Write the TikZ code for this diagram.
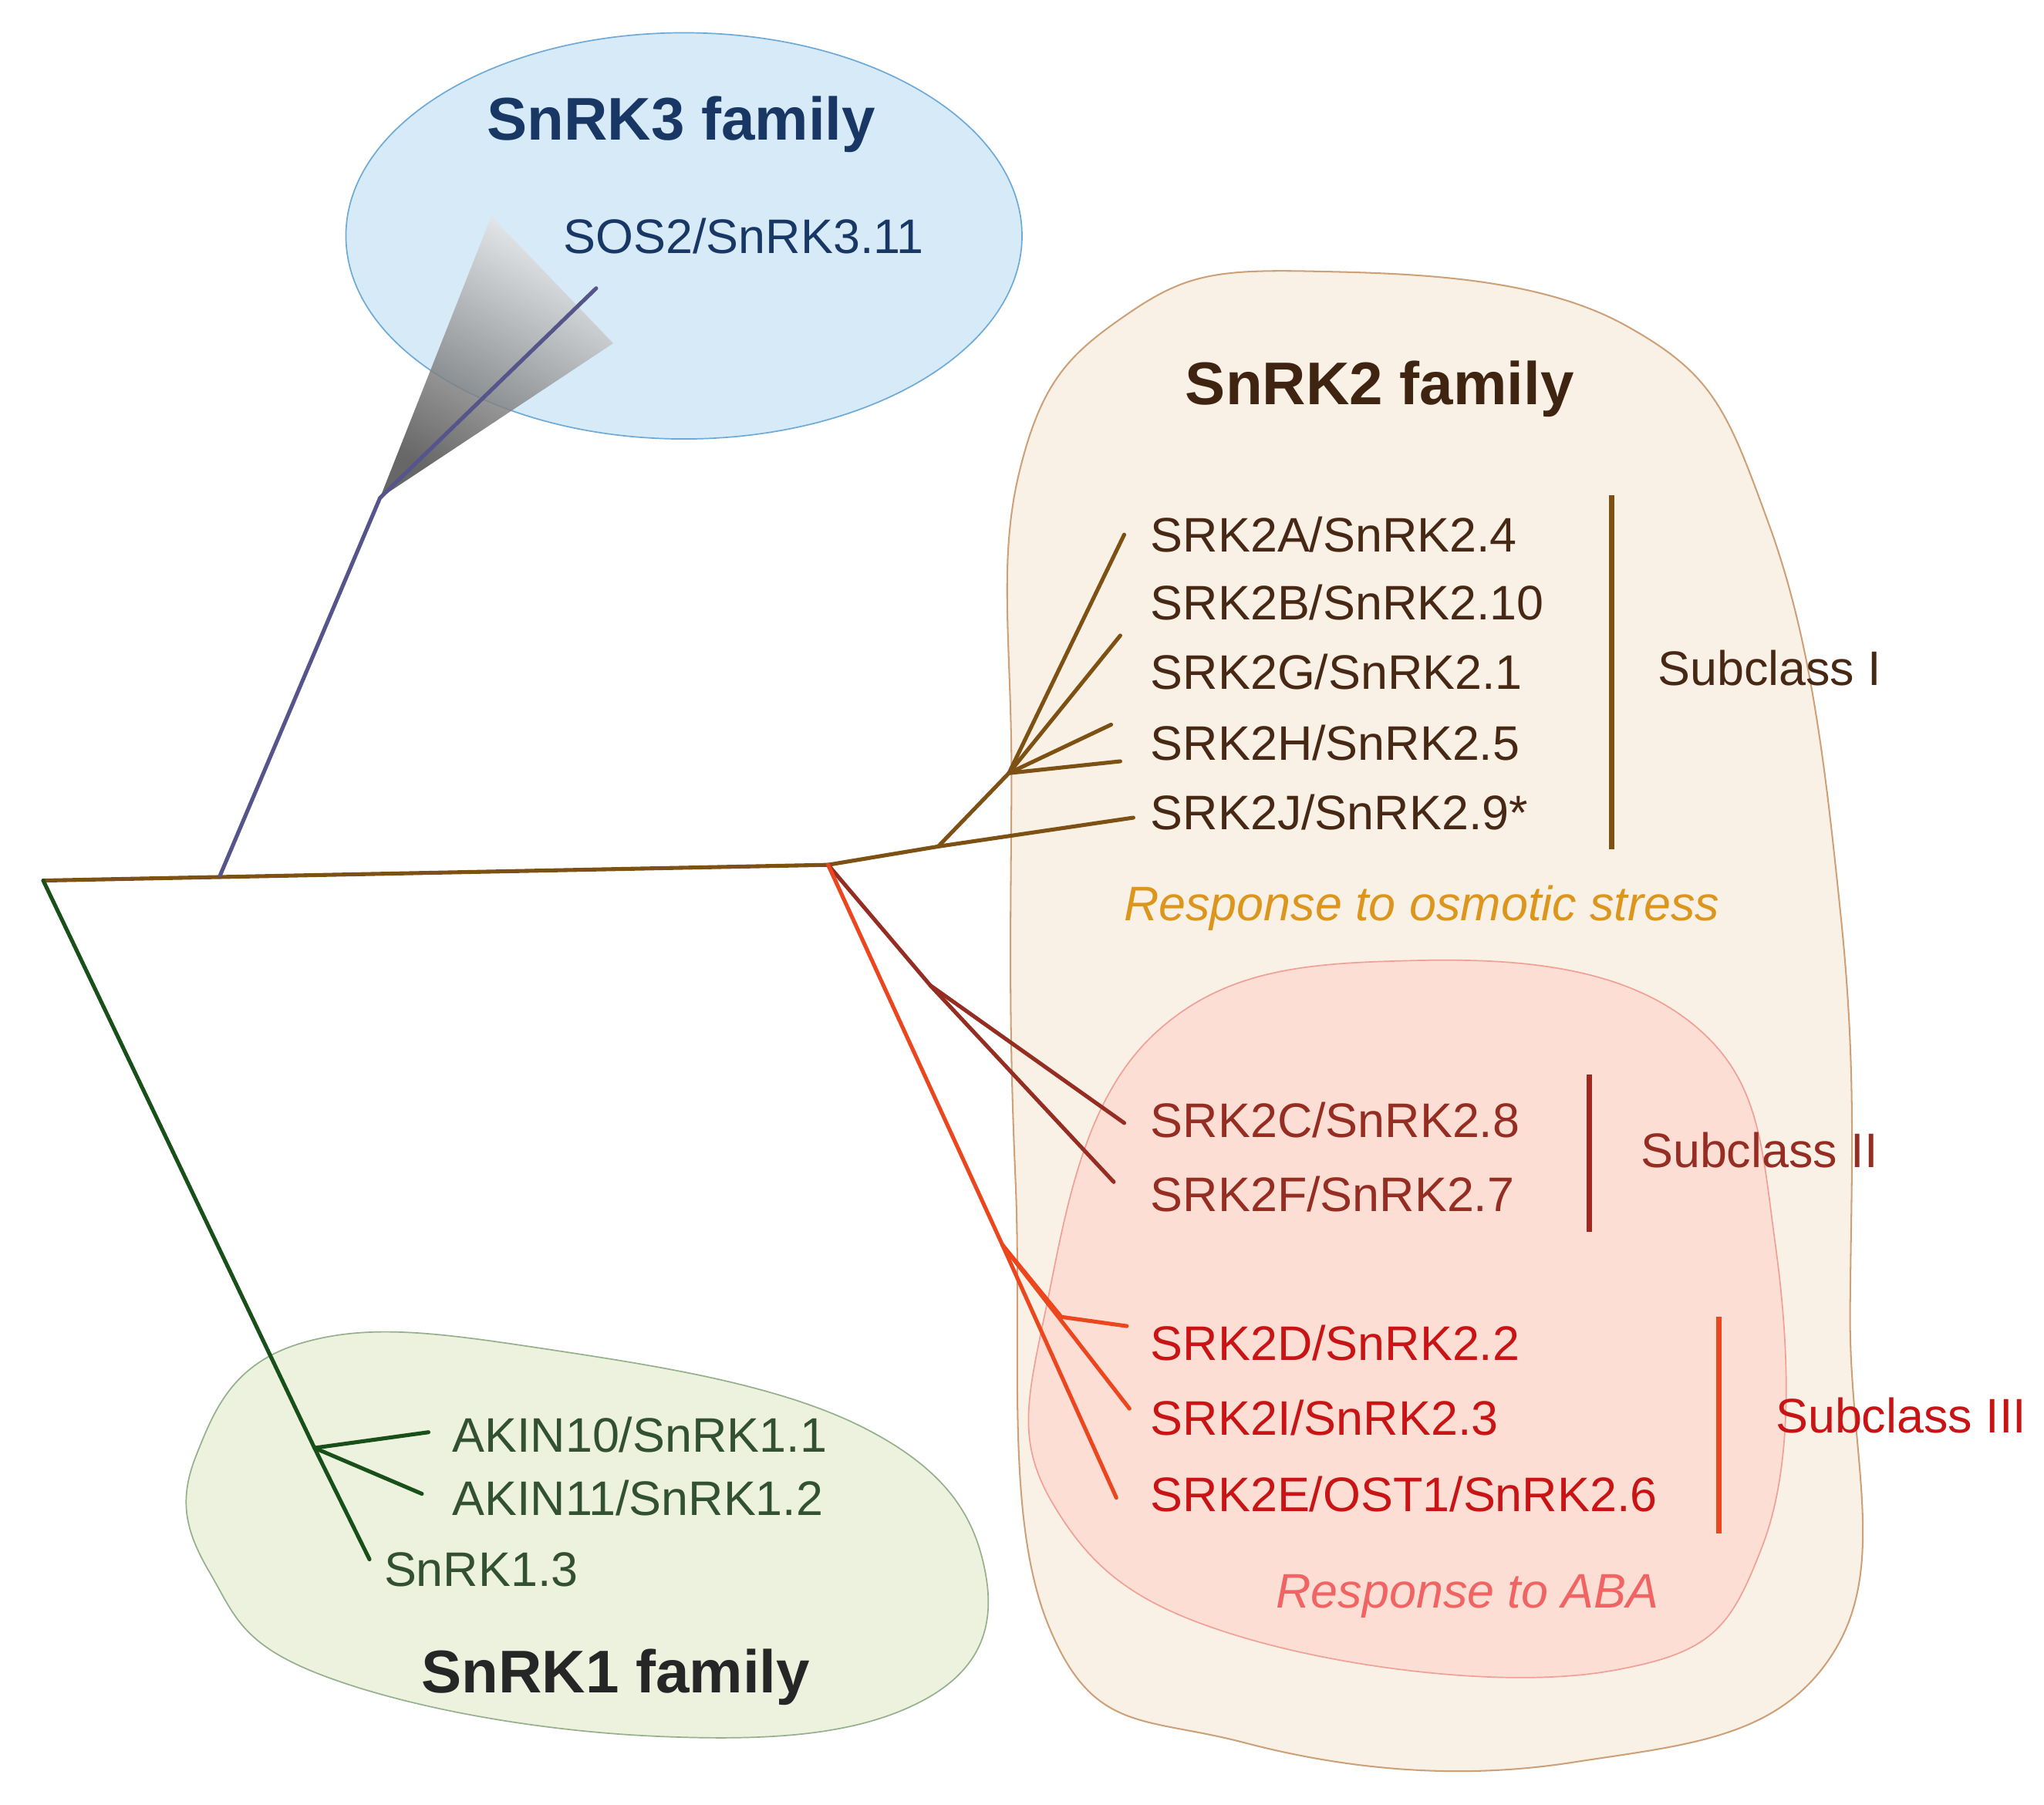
\documentclass[tikz,border=0pt]{standalone}
\usepackage{fontspec}
\setmainfont{Liberation Sans}
\usetikzlibrary{shadings}
\definecolor{bluefill}{RGB}{214,234,248}
\definecolor{bluestroke}{RGB}{110,170,215}
\definecolor{navy}{RGB}{25,55,100}
\definecolor{purp}{RGB}{85,85,140}
\definecolor{brn}{RGB}{125,80,20}
\definecolor{brntxt}{RGB}{70,40,20}
\definecolor{beige}{RGB}{250,241,230}
\definecolor{beigestroke}{RGB}{205,160,120}
\definecolor{pinkfill}{RGB}{252,222,212}
\definecolor{pinkstroke}{RGB}{240,160,150}
\definecolor{dred}{RGB}{150,45,35}
\definecolor{ored}{RGB}{235,70,30}
\definecolor{rtxt}{RGB}{200,20,20}
\definecolor{osm}{RGB}{220,150,30}
\definecolor{aba}{RGB}{240,100,100}
\definecolor{grnfill}{RGB}{236,242,222}
\definecolor{grnstroke}{RGB}{150,175,140}
\definecolor{grn}{RGB}{25,80,25}
\definecolor{grntxt}{RGB}{50,80,50}
\begin{document}
\begin{tikzpicture}[x=1pt,y=-1pt,
  lab/.style={anchor=west,inner sep=0pt,font=\fontsize{37}{40}\selectfont},
  ttl/.style={inner sep=0pt,font=\fontsize{46}{50}\selectfont\bfseries},
  br/.style={line width=3pt,line cap=round}]
\useasboundingbox (0,0) rectangle (1560,1377);
% blobs
\draw[fill=bluefill,draw=bluestroke,line width=1pt] (522,180) ellipse [x radius=258,y radius=155];
\draw[fill=beige,draw=beigestroke,line width=1.2pt] plot[smooth cycle,tension=0.7] coordinates {(778,360) (860,240) (1000,207) (1240,248) (1350,400) (1405,700) (1412,1000) (1400,1260) (1200,1345) (950,1330) (800,1240) (775,900) (772,600)};
\draw[fill=pinkfill,draw=pinkstroke,line width=1pt] plot[smooth cycle,tension=0.7] coordinates {(798,1000) (880,790) (1080,733) (1290,780) (1355,950) (1345,1180) (1230,1275) (950,1250) (805,1150)};
\draw[fill=grnfill,draw=grnstroke,line width=1pt] plot[smooth cycle,tension=0.7] coordinates {(150,1110) (230,1025) (420,1030) (660,1090) (752,1200) (700,1300) (500,1325) (250,1280) (160,1200)};
% gray cone
\shade[top color=gray!15,bottom color=black!70,shading angle=-30,opacity=0.85] (290,380) -- (375,165) -- (468,262) -- cycle;
% tree
\coordinate (root) at (33,672);
\coordinate (s3a) at (168,668);
\coordinate (s3b) at (290,380);
\coordinate (s3c) at (455,220);
\coordinate (s2) at (632,660);
\coordinate (s2a) at (716,646);
\coordinate (s2b) at (770,590);
\coordinate (s2c) at (710,752);
\coordinate (s2d) at (765,950);
\coordinate (s2e) at (810,1005);
\coordinate (s1) at (240,1105);
\draw[br,draw=brn] (root) -- (s2);
\draw[br,draw=purp] (s3a) -- (s3b) -- (s3c);
\draw[br,draw=brn] (s2) -- (s2a) -- (865,624);
\draw[br,draw=brn] (s2a) -- (s2b) -- (858,408);
\draw[br,draw=brn] (s2b) -- (855,485);
\draw[br,draw=brn] (s2b) -- (848,553);
\draw[br,draw=brn] (s2b) -- (855,581);
\draw[br,draw=dred] (s2) -- (s2c) -- (858,857);
\draw[br,draw=dred] (s2c) -- (850,902);
\draw[br,draw=ored] (s2) -- (s2d) -- (852,1143);
\draw[br,draw=ored] (s2d) -- (s2e) -- (860,1012);
\draw[br,draw=ored] (s2d) -- (862,1075);
\draw[br,draw=grn] (root) -- (s1) -- (282,1190);
\draw[br,draw=grn] (s1) -- (327,1093);
\draw[br,draw=grn] (s1) -- (322,1140);
% titles
\node[ttl,text=navy] (t3) at (520,95) {SnRK3 family};
\node[ttl,text=brntxt!90!black] (t2) at (1053,297) {SnRK2 family};
\node[ttl,text=black!85] (t1) at (470,1280) {SnRK1 family};
\node[lab,text=navy] (sos) at (430,180) {SOS2/SnRK3.11};
% SnRK2 labels
\node[lab,text=brntxt] (a) at (878,408) {SRK2A/SnRK2.4};
\node[lab,text=brntxt] (b) at (878,460) {SRK2B/SnRK2.10};
\node[lab,text=brntxt] (g) at (878,513) {SRK2G/SnRK2.1};
\node[lab,text=brntxt] (h) at (878,567) {SRK2H/SnRK2.5};
\node[lab,text=brntxt] (j) at (878,620) {SRK2J/SnRK2.9*};
\draw[line width=4pt,draw=brn] (1230,378) -- (1230,648);
\node[lab,text=brntxt] (c1) at (1265,510) {Subclass I};
\node[lab,anchor=center,text=osm,font=\fontsize{37}{40}\selectfont\itshape] (osmo) at (1085,693) {Response to osmotic stress};
\node[lab,text=dred] (c) at (878,855) {SRK2C/SnRK2.8};
\node[lab,text=dred] (f) at (878,911) {SRK2F/SnRK2.7};
\draw[line width=4pt,draw=dred!90!red] (1213,820) -- (1213,940);
\node[lab,text=dred] (c2) at (1252,878) {Subclass II};
\node[lab,text=rtxt] (d) at (878,1025) {SRK2D/SnRK2.2};
\node[lab,text=rtxt] (i) at (878,1082) {SRK2I/SnRK2.3};
\node[lab,text=rtxt] (e) at (878,1140) {SRK2E/OST1/SnRK2.6};
\draw[line width=4pt,draw=ored] (1312,1005) -- (1312,1170);
\node[lab,text=rtxt] (c3) at (1355,1080) {Subclass III};
\node[lab,anchor=center,text=aba,font=\fontsize{37}{40}\selectfont\itshape] (abal) at (1120,1218) {Response to ABA};
% SnRK1 labels
\node[lab,text=grntxt] (k10) at (345,1095) {AKIN10/SnRK1.1};
\node[lab,text=grntxt] (k11) at (345,1143) {AKIN11/SnRK1.2};
\node[lab,text=grntxt] (k13) at (293,1198) {SnRK1.3};
\end{tikzpicture}
\end{document}
